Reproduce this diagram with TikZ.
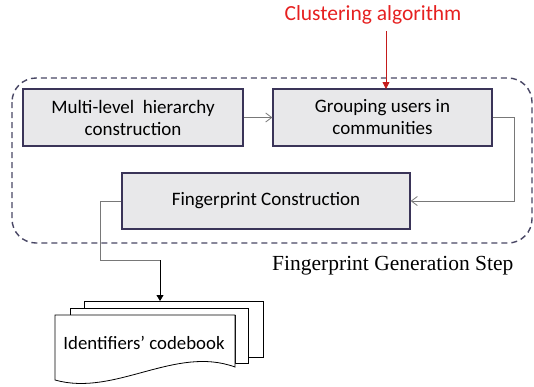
\documentclass[tikz,border=0pt]{standalone}
\usepackage{fontspec}
\setmainfont{Carlito}
\newfontfamily\serifcap{Liberation Serif}
\usetikzlibrary{arrows.meta}
\definecolor{boxfill}{RGB}{232,232,234}
\definecolor{boxline}{RGB}{58,52,88}
\definecolor{dashline}{RGB}{72,70,100}
\definecolor{redtxt}{RGB}{230,32,32}
\definecolor{conn}{RGB}{120,120,120}
\tikzset{
  procbox/.style={draw=boxline, line width=1.3pt, fill=boxfill, align=center, font=\fontsize{19}{22}\selectfont, inner sep=0pt},
  connline/.style={draw=conn, line width=0.8pt},
  openarrow/.style={-{Straight Barb[length=6pt,width=9pt]}},
  page/.style={draw=black, line width=0.8pt, fill=white},
}
\begin{document}
\begin{tikzpicture}[x=1pt,y=-1pt]
\useasboundingbox (0,0) rectangle (534,386);
% dashed frame
\draw[dashline, line width=1.4pt, dash pattern=on 6pt off 4pt, rounded corners=24pt] (12,78) rectangle (532,243);
\node[procbox, minimum width=220pt, minimum height=57pt] (b1) at (133,117.5) {Multi-level\ \ hierarchy\\construction};
\node[procbox, minimum width=219pt, minimum height=57pt] (b2) at (382.5,117.5) {Grouping users in\\communities};
\node[procbox, minimum width=288pt, minimum height=56pt] (b3) at (266,201) {Fingerprint Construction};
\node[text=redtxt, font=\fontsize{21.5}{24}\selectfont, inner sep=0pt] (ca) at (373,15) {Clustering algorithm};
\node[font=\serifcap\fontsize{21.5}{24}\selectfont, inner sep=0pt, anchor=west] (fgs) at (272,266) {Fingerprint Generation Step};
% document stack
\draw[page] (84,301) -- (263,301) -- (263,357) -- (248,357) -- (248,308) -- (84,308) -- cycle;
\draw[page] (70,308) -- (248,308) -- (248,363) -- (235,363) -- (235,315) -- (70,315) -- cycle;
\draw[page] (55,315) -- (235,315) -- (235,367) .. controls (175,345) and (115,397) .. (55,380) -- cycle;
\node[font=\fontsize{18.8}{21}\selectfont, inner sep=0pt] (cb) at (144,343) {Identifiers’ codebook};
\coordinate (docin) at (160,301);
% connectors
\draw[connline, openarrow] (b1.east) -- (b2.west);
\draw[connline, openarrow] (b2.east) -- (514,117.5) |- (b3.east);
\draw[connline] (b3.west) -- (100,201) |- (160,260);
\draw[black, line width=0.8pt, -{Triangle[length=6pt,width=7pt]}] (160,260) -- (docin);
\draw[redtxt!85!black, line width=0.8pt, -{Triangle[length=7pt,width=7pt]}] (386,31) -- (386,89);
\end{tikzpicture}
\end{document}
